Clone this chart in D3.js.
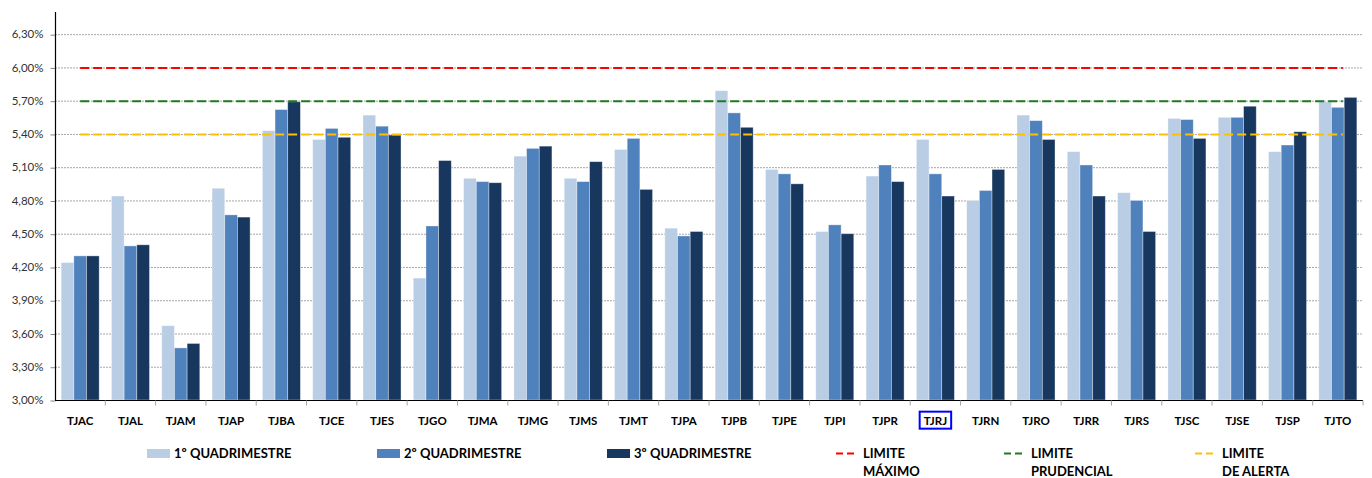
<!DOCTYPE html>
<html>
<head>
<meta charset="utf-8">
<script src="https://cdn.jsdelivr.net/npm/d3@7"></script>
<style>
    body { margin: 0; background: #fff; }
    svg { display: block; font-family: Lato, 'Open Sans', sans-serif; }
</style>
</head>
<body>
<svg id="chart"></svg>
<script>
const categories = ['TJAC', 'TJAL', 'TJAM', 'TJAP', 'TJBA', 'TJCE', 'TJES', 'TJGO', 'TJMA', 'TJMG', 'TJMS', 'TJMT', 'TJPA',
    'TJPB', 'TJPE', 'TJPI', 'TJPR', 'TJRJ', 'TJRN', 'TJRO', 'TJRR', 'TJRS', 'TJSC', 'TJSE', 'TJSP', 'TJTO'];
const seriesNames = ['1º QUADRIMESTRE', '2º QUADRIMESTRE', '3º QUADRIMESTRE'];
const q1Values = [4.24, 4.84, 3.67, 4.91, 5.43, 5.35, 5.57, 4.10, 5.00, 5.20, 5.00, 5.26, 4.55,
    5.79, 5.08, 4.52, 5.02, 5.35, 4.80, 5.57, 5.24, 4.87, 5.54, 5.55, 5.24, 5.69];
const q2Values = [4.30, 4.39, 3.47, 4.67, 5.62, 5.45, 5.47, 4.57, 4.97, 5.27, 4.97, 5.36, 4.48,
    5.59, 5.04, 4.58, 5.12, 5.04, 4.89, 5.52, 5.12, 4.80, 5.53, 5.55, 5.30, 5.64];
const q3Values = [4.30, 4.40, 3.51, 4.65, 5.69, 5.37, 5.39, 5.16, 4.96, 5.29, 5.15, 4.90, 4.52,
    5.46, 4.95, 4.50, 4.97, 4.84, 5.08, 5.35, 4.84, 4.52, 5.36, 5.65, 5.42, 5.73];
const limitValues = [6.00, 5.70, 5.40];
const limitNames = [['LIMITE', 'MÁXIMO'], ['LIMITE', 'PRUDENCIAL'], ['LIMITE', 'DE ALERTA']];
const yTickValues = [3.00, 3.30, 3.60, 3.90, 4.20, 4.50, 4.80, 5.10, 5.40, 5.70, 6.00, 6.30];
const highlighted = 'TJRJ';

const WIDTH = 1372;
const HEIGHT = 478;
const PLOT = {left: 55, right: 1363, top: 12, bottom: 400};
const SERIES_COLORS = ['#b9cde5', '#4f81bd', '#17375e'];
const LIMIT_COLORS = ['#ff0000', '#1e7b1e', '#ffc000'];
const SERIES_LEGEND_X = [147, 377, 607];
const LIMIT_LEGEND_X = [836, 1004, 1195];

const ptBR = d3.formatLocale({decimal: ',', thousands: '.', grouping: [3], currency: ['R$', '']});
const fmt = (v) => ptBR.format('.2f')(v) + '%';

const seriesValues = [q1Values, q2Values, q3Values];
const rows = categories.map((c, i) => ({
    category: c,
    values: seriesNames.map((s, k) => ({series: s, index: k, value: seriesValues[k][i]}))
}));

const x = d3.scaleBand().domain(categories).range([PLOT.left, PLOT.right]).padding(0);
const bw = x.bandwidth();
const x1 = d3.scaleBand().domain(seriesNames).range([bw * 0.122, bw * 0.878]).padding(0);
const y = d3.scaleLinear().domain([3, 6.5]).range([PLOT.bottom, PLOT.top]);

let svg = d3.select('#chart')
    .attr('width', WIDTH)
    .attr('height', HEIGHT);

// gridlines
svg.append('g')
    .selectAll('line')
    .data(yTickValues.slice(1))
    .enter()
    .append('line')
    .attr('x1', PLOT.left)
    .attr('x2', PLOT.right)
    .attr('y1', (d) => y(d) + 0.5)
    .attr('y2', (d) => y(d) + 0.5)
    .attr('stroke', '#a6a6a6')
    .attr('stroke-width', 1)
    .attr('stroke-dasharray', '2,1');

// bars
svg.append('g')
    .selectAll('g')
    .data(rows)
    .enter()
    .append('g')
    .attr('transform', (d) => `translate(${x(d.category)}, 0)`)
    .selectAll('rect')
    .data((d) => d.values)
    .enter()
    .append('rect')
    .attr('x', (d) => x1(d.series))
    .attr('y', (d) => y(d.value))
    .attr('width', x1.bandwidth())
    .attr('height', (d) => PLOT.bottom - y(d.value))
    .attr('fill', (d) => SERIES_COLORS[d.index])
    .attr('stroke', 'rgba(255,255,255,0.45)')
    .attr('stroke-width', 0.8);

// limit lines, from first to last category centre
svg.append('g')
    .selectAll('line')
    .data(limitValues)
    .enter()
    .append('line')
    .attr('x1', x(categories[0]) + bw / 2)
    .attr('x2', x(categories[categories.length - 1]) + bw / 2 + 5)
    .attr('y1', (d) => y(d) + 0.5)
    .attr('y2', (d) => y(d) + 0.5)
    .attr('stroke', (d, i) => LIMIT_COLORS[i])
    .attr('stroke-width', 2)
    .attr('stroke-dasharray', '9,4');

// y axis
let yAxis = svg.append('g')
    .attr('transform', `translate(${PLOT.left + 0.5}, 0)`)
    .call(d3.axisLeft(y).tickValues(yTickValues).tickFormat(fmt).tickSize(5).tickSizeOuter(0).tickPadding(7));
yAxis.select('.domain').remove();
yAxis.selectAll('.tick line').attr('stroke', '#868686').attr('transform', 'translate(0, 0.5)');
yAxis.selectAll('.tick text')
    .attr('fill', '#333')
    .style('font-size', '11.5px')
    .style('font-family', 'Lato, sans-serif');
yAxis.append('line')
    .attr('y1', PLOT.top)
    .attr('y2', PLOT.bottom + 0.5)
    .attr('stroke', '#000')
    .attr('stroke-width', 1.2);

// x axis
let xAxis = svg.append('g')
    .attr('transform', `translate(0, ${PLOT.bottom + 0.5})`)
    .call(d3.axisBottom(x).tickSize(0).tickPadding(16));
xAxis.select('.domain').remove();
xAxis.append('line')
    .attr('x1', PLOT.left)
    .attr('x2', PLOT.right)
    .attr('stroke', '#000')
    .attr('stroke-width', 1.2);
xAxis.append('g')
    .selectAll('line')
    .data(categories.slice(1).concat(['end']))
    .enter()
    .append('line')
    .attr('x1', (d) => d === 'end' ? PLOT.right : x(d))
    .attr('x2', (d) => d === 'end' ? PLOT.right : x(d))
    .attr('y1', 0)
    .attr('y2', 5)
    .attr('stroke', '#a6a6a6');
xAxis.selectAll('.tick text')
    .attr('fill', '#000')
    .style('font-size', '11.5px')
    .style('font-weight', 'bold')
    .style('font-family', 'Lato, sans-serif');

// box around the highlighted court
xAxis.selectAll('.tick')
    .filter((d) => d === highlighted)
    .each(function()
    {
        let box = d3.select(this).select('text').node().getBBox();
        d3.select(this)
            .insert('rect', 'text')
            .attr('x', box.x - 4)
            .attr('y', box.y - 2)
            .attr('width', box.width + 8)
            .attr('height', box.height + 4)
            .attr('fill', 'none')
            .attr('stroke', '#0000ff')
            .attr('stroke-width', 2);
    });

// legend
let legend = svg.append('g').style('font-family', 'Lato, sans-serif');

let seriesLegend = legend.selectAll('.series-legend')
    .data(seriesNames)
    .enter()
    .append('g')
    .classed('series-legend', true)
    .attr('transform', (d, i) => `translate(${SERIES_LEGEND_X[i]}, 449)`);

seriesLegend.append('rect')
    .attr('width', 23)
    .attr('height', 9)
    .attr('fill', (d, i) => SERIES_COLORS[i]);

seriesLegend.append('text')
    .attr('x', 27)
    .attr('y', 9)
    .style('font-size', '13px')
    .style('font-weight', 'bold')
    .attr('fill', '#000')
    .text((d) => d);

let limitLegend = legend.selectAll('.limit-legend')
    .data(limitNames)
    .enter()
    .append('g')
    .classed('limit-legend', true)
    .attr('transform', (d, i) => `translate(${LIMIT_LEGEND_X[i]}, 449)`);

limitLegend.append('line')
    .attr('x1', 0)
    .attr('x2', 22)
    .attr('y1', 4.5)
    .attr('y2', 4.5)
    .attr('stroke', (d, i) => LIMIT_COLORS[i])
    .attr('stroke-width', 2)
    .attr('stroke-dasharray', '7,4');

limitLegend.append('text')
    .attr('x', 27)
    .attr('y', 9)
    .style('font-size', '13px')
    .style('font-weight', 'bold')
    .attr('fill', '#000')
    .selectAll('tspan')
    .data((d) => d)
    .enter()
    .append('tspan')
    .attr('x', 27)
    .attr('dy', (d, i) => i === 0 ? 0 : 18)
    .text((d) => d);
</script>
</body>
</html>
